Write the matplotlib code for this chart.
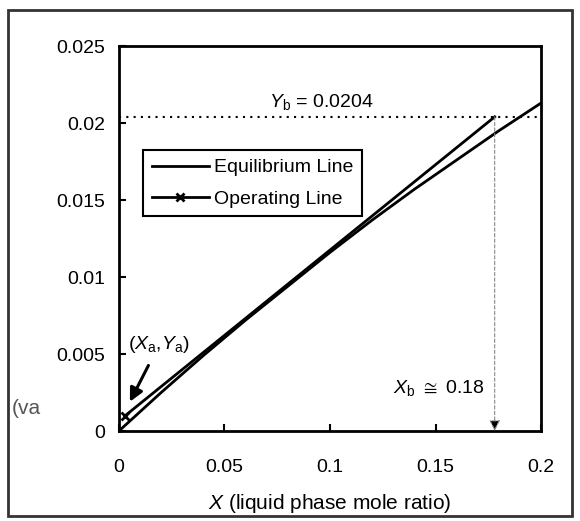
import numpy as np
import matplotlib
matplotlib.use("Agg")
import matplotlib.pyplot as plt
from matplotlib.patches import Rectangle

plt.rcParams["font.family"] = ["Liberation Sans", "DejaVu Sans"]
plt.rcParams["mathtext.fontset"] = "custom"
plt.rcParams["mathtext.rm"] = "Liberation Sans"
plt.rcParams["mathtext.it"] = "Liberation Sans:italic"
plt.rcParams["mathtext.fallback"] = "stixsans"

# equilibrium line
x_eq = [0, 0.02, 0.04, 0.06, 0.08, 0.1, 0.12, 0.14, 0.16, 0.18, 0.2]
y_eq = [0, 0.0025, 0.0049, 0.0072, 0.0094, 0.0116, 0.0137, 0.0157, 0.0176, 0.0195, 0.0213]

# operating line ends
x_op = [0.003, 0.178]
y_op = [0.001, 0.0204]

Yb = 0.0204
Xb = 0.178

xticks = [0, 0.05, 0.1, 0.15, 0.2]
xticklabels = ["0", "0.05", "0.1", "0.15", "0.2"]
yticks = [0, 0.005, 0.01, 0.015, 0.02, 0.025]
yticklabels = ["0", "0.005", "0.01", "0.015", "0.02", "0.025"]

fig = plt.figure(figsize=(5.8, 5.21), dpi=100)
ax = fig.add_axes([0.205, 0.1727, 0.728, 0.739])

ax.plot(x_eq, y_eq, color="black", lw=2, label="Equilibrium Line")
ax.plot(x_op, y_op, color="black", lw=2, marker="x", markersize=6,
        markeredgewidth=2, markevery=[0], label="Operating Line")

# Yb dotted line
ax.axhline(Yb, color="black", lw=1.5, ls=(0, (1, 2.5)))
ax.text(0.071, Yb + 0.0003, r"$Y_{\mathrm{b}}$ = 0.0204", fontsize=14,
        va="bottom", ha="left")

# Xb arrow
ax.annotate("", xy=(Xb, 0), xytext=(Xb, Yb),
            arrowprops=dict(arrowstyle="-|>", color="#888888", lw=0.8,
                            ls=(0, (3, 2)), mutation_scale=16,
                            shrinkA=0, shrinkB=0, fc="black", ec="#888888"))
ax.text(Xb - 0.005, 0.0028, r"$X_{\mathrm{b}}$ $\cong$ 0.18", fontsize=14,
        ha="right", va="center")

# (Xa, Ya) arrow
ax.annotate(r"($X_{\mathrm{a}}$,$Y_{\mathrm{a}}$)", xy=(0.0052, 0.0019),
            xytext=(0.019, 0.0056), fontsize=14, ha="center", va="center",
            arrowprops=dict(arrowstyle="-|>", color="black", lw=2.2,
                            mutation_scale=20, shrinkA=6, shrinkB=0))

ax.set_xlim(0, 0.2)
ax.set_ylim(0, 0.025)
ax.set_xticks(xticks)
ax.set_xticklabels(xticklabels)
ax.set_yticks(yticks)
ax.set_yticklabels(yticklabels)
ax.tick_params(direction="in", length=5, width=1.5, labelsize=14)
ax.tick_params(axis="y", pad=10)
ax.tick_params(axis="x", pad=20)
for s in ax.spines.values():
    s.set_linewidth(2)

ax.set_xlabel(r"$X$ (liquid phase mole ratio)", fontsize=15, labelpad=12)

leg = ax.legend(loc="upper left", bbox_to_anchor=(0.035, 0.755), fontsize=14,
                fancybox=False, edgecolor="black", framealpha=1,
                handlelength=2.9, handletextpad=0.3, borderpad=0.45,
                labelspacing=0.7)
leg.get_frame().set_linewidth(1.5)

# cut-off y label fragment
fig.text(0.02, 0.215, "(va", fontsize=15, color="#555555", va="center")

# outer frame
fig.patches.append(Rectangle((0.014, 0.01), 0.972, 0.971, transform=fig.transFigure,
                             fill=False, edgecolor="#333333", lw=2))

fig.savefig("out.png", dpi=100)
